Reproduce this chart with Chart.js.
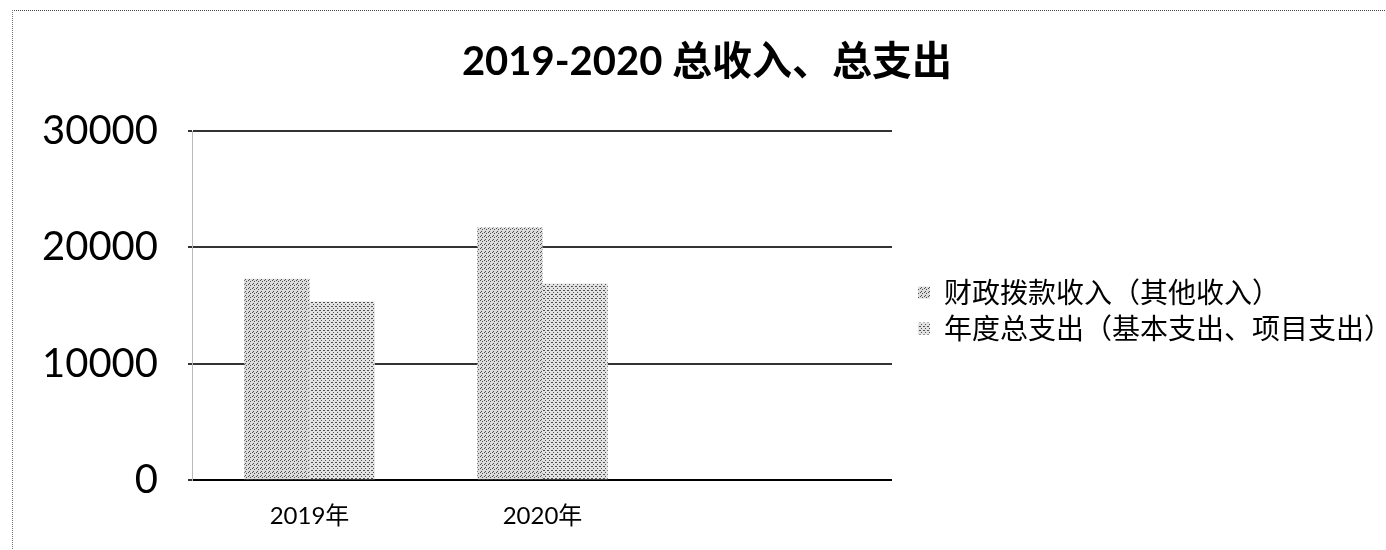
<!DOCTYPE html>
<html>
<head>
<meta charset="utf-8">
<script src="https://cdn.jsdelivr.net/npm/chart.js@4"></script>
<style>
  html, body { margin: 0; padding: 0; background: #fff; }
  #wrap { position: relative; width: 1386px; height: 550px; overflow: hidden; }
  #frame { position: absolute; left: 12px; top: 10px; width: 1400px; height: 560px;
           border-top: 1px dotted #444; border-left: 1px dotted #777; pointer-events: none; }
  canvas { position: absolute; left: 0; top: 0; }
</style>
</head>
<body>
<div id="wrap">
  <canvas id="budgetChart" width="1386" height="550"></canvas>
  <div id="frame"></div>
</div>
<script>
const years = ['2019年', '2020年', ''];
const incomeLabel = '财政拨款收入（其他收入）';
const spendLabel = '年度总支出（基本支出、项目支出）';
const income = [17300, 21700, null];
const spending = [15350, 16900, null];
const yTicks = [0, 10000, 20000, 30000];

// stippled grey fill like the printed original
function stipple(dots, bg) {
  const c = document.createElement('canvas');
  c.width = 4;
  c.height = 4;
  const g = c.getContext('2d');
  g.fillStyle = bg;
  g.fillRect(0, 0, 4, 4);
  g.fillStyle = '#505050';
  dots.forEach(d => g.fillRect(d[0], d[1], 1, 1));
  return g.createPattern(c, 'repeat');
}

const fontLatin = 'Lato, "Noto Sans CJK SC", sans-serif';

const ctx = document.getElementById('budgetChart').getContext('2d');
const budgetChart = new Chart(ctx, {
  type: 'bar',
  data: {
    labels: years,
    datasets: [{
      label: incomeLabel,
      data: income,
      backgroundColor: stipple([[0, 0], [2, 1], [1, 3]], '#dcdcdc'),
      borderWidth: 0
    }, {
      label: spendLabel,
      data: spending,
      backgroundColor: stipple([[1, 0], [3, 2], [0, 2]], '#e2e2e2'),
      borderWidth: 0
    }]
  },
  options: {
    responsive: false,
    animation: false,
    devicePixelRatio: 1,
    categoryPercentage: 0.56,
    barPercentage: 1,
    layout: {
      padding: { left: 12, right: -16, top: 38, bottom: 5 }
    },
    plugins: {
      title: {
        display: true,
        text: '2019-2020 总收入、总支出',
        color: '#000',
        font: { family: fontLatin, size: 40, weight: 'bold' },
        padding: { top: 0, bottom: 45 }
      },
      legend: {
        position: 'right',
        align: 'center',
        maxWidth: 600,
        title: {
          display: true,
          text: '',
          font: { size: 1 },
          padding: { top: 37, bottom: 0 }
        },
        labels: {
          color: '#000',
          boxWidth: 12,
          boxHeight: 12,
          padding: 8,
          font: { family: '"Noto Sans CJK SC", sans-serif', size: 28 }
        }
      },
      tooltip: { enabled: false }
    },
    scales: {
      x: {
        grid: { display: false },
        border: { color: '#000', width: 2 },
        ticks: {
          color: '#000',
          padding: 14,
          font: { family: fontLatin, size: 24 }
        }
      },
      y: {
        min: 0,
        max: 30000,
        afterBuildTicks: axis => {
          axis.ticks = yTicks.map(v => ({ value: v }));
        },
        grid: {
          color: '#333',
          lineWidth: 2,
          drawTicks: true,
          tickLength: 5
        },
        border: { color: '#bbb', width: 1 },
        ticks: {
          color: '#000',
          padding: 30,
          font: { family: fontLatin, size: 40 },
          callback: v => String(v)
        }
      },
      gap: {
        type: 'linear',
        position: 'right',
        display: true,
        grid: { display: false },
        border: { display: false },
        ticks: { display: false },
        afterFit: s => { s.width = 18; }
      }
    }
  }
});
</script>
</body>
</html>
